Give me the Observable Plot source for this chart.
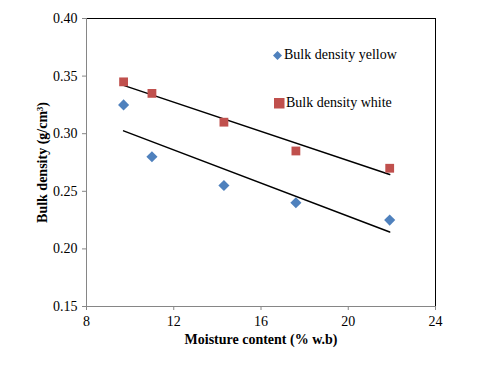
<!DOCTYPE html>
<html>
<head>
<meta charset="utf-8">
<script src="https://cdn.jsdelivr.net/npm/d3@7"></script>
<script src="https://cdn.jsdelivr.net/npm/@observablehq/plot@0.6"></script>
<style>
  html, body { margin: 0; padding: 0; background: #fff; }
  #wrap { position: relative; width: 485px; height: 390px; font-family: "Liberation Serif", "Times New Roman", serif; }
  .leg { position: absolute; font-size: 14px; color: #000; white-space: nowrap; display: flex; align-items: center; }
  .leg svg { margin-right: 1px; }
</style>
</head>
<body>
<div id="wrap"></div>
<script>
const moisture = [9.7, 11.0, 14.3, 17.6, 21.9];
const yellow = [0.325, 0.280, 0.255, 0.240, 0.225];
const white = [0.345, 0.335, 0.310, 0.285, 0.270];
const xTicks = [8, 12, 16, 20, 24];
const yTicks = [0.15, 0.20, 0.25, 0.30, 0.35, 0.40];
const seriesNames = ["Bulk density yellow", "Bulk density white"];
const colors = ["#4F81BD", "#C0504D"];

const dataY = moisture.map((m, i) => ({x: m, y: yellow[i]}));
const dataW = moisture.map((m, i) => ({x: m, y: white[i]}));

const plot = Plot.plot({
  width: 485,
  height: 390,
  marginLeft: 86,
  marginRight: 50,
  marginTop: 18,
  marginBottom: 84,
  style: {fontFamily: "Liberation Serif, Times New Roman, serif", fontSize: "14px", background: "#fff", color: "#000"},
  x: {domain: [8, 24], ticks: xTicks, tickSize: 4, tickPadding: 6, label: null},
  y: {domain: [0.15, 0.40], ticks: yTicks, tickFormat: d3.format(".2f"), tickSize: 4, tickPadding: 5, label: null},
  marks: [
    Plot.ruleY([0.40], {stroke: "#000", strokeWidth: 1}),
    Plot.ruleX([24], {stroke: "#000", strokeWidth: 1}),
    Plot.ruleX([8], {stroke: "#868686", strokeWidth: 1}),
    Plot.ruleY([0.15], {stroke: "#868686", strokeWidth: 1}),
    Plot.axisX({ticks: xTicks, tickSize: 4, tickPadding: 6, stroke: "#868686", fill: "#000", fontSize: 14, label: null}),
    Plot.axisY({ticks: yTicks, tickFormat: d3.format(".2f"), tickSize: 4, tickPadding: 5, stroke: "#868686", fill: "#000", fontSize: 14, label: null}),
    Plot.linearRegressionY(dataY, {x: "x", y: "y", stroke: "#000", strokeWidth: 1.5, ci: 0}),
    Plot.linearRegressionY(dataW, {x: "x", y: "y", stroke: "#000", strokeWidth: 1.5, ci: 0}),
    Plot.dot(dataY, {x: "x", y: "y", symbol: "diamond2", r: 5, fill: colors[0], stroke: "none"}),
    Plot.dot(dataW, {x: "x", y: "y", symbol: "square2", r: 5.6, fill: colors[1], stroke: "none"}),
    Plot.text(["Moisture content (% w.b)"], {frameAnchor: "bottom", dy: 37, fontWeight: "bold", fontSize: 14, fill: "#000"}),
    Plot.text(["Bulk density (g/cm³)"], {frameAnchor: "left", textAnchor: "middle", dx: -44, rotate: -90, fontWeight: "bold", fontSize: 14, fill: "#000"})
  ]
});

const wrap = document.getElementById("wrap");
wrap.appendChild(plot);

const leg1 = document.createElement("div");
leg1.className = "leg";
leg1.style.left = "272px";
leg1.style.top = "47px";
leg1.innerHTML = `<svg width="11" height="11"><path d="M5.5,1 L10,5.5 L5.5,10 L1,5.5 Z" fill="${colors[0]}"/></svg><span>${seriesNames[0]}</span>`;
wrap.appendChild(leg1);

const leg2 = document.createElement("div");
leg2.className = "leg";
leg2.style.left = "273px";
leg2.style.top = "95px";
leg2.innerHTML = `<svg width="12" height="12"><rect x="1" y="1" width="10.5" height="10.5" fill="${colors[1]}"/></svg><span>${seriesNames[1]}</span>`;
wrap.appendChild(leg2);
</script>
</body>
</html>
